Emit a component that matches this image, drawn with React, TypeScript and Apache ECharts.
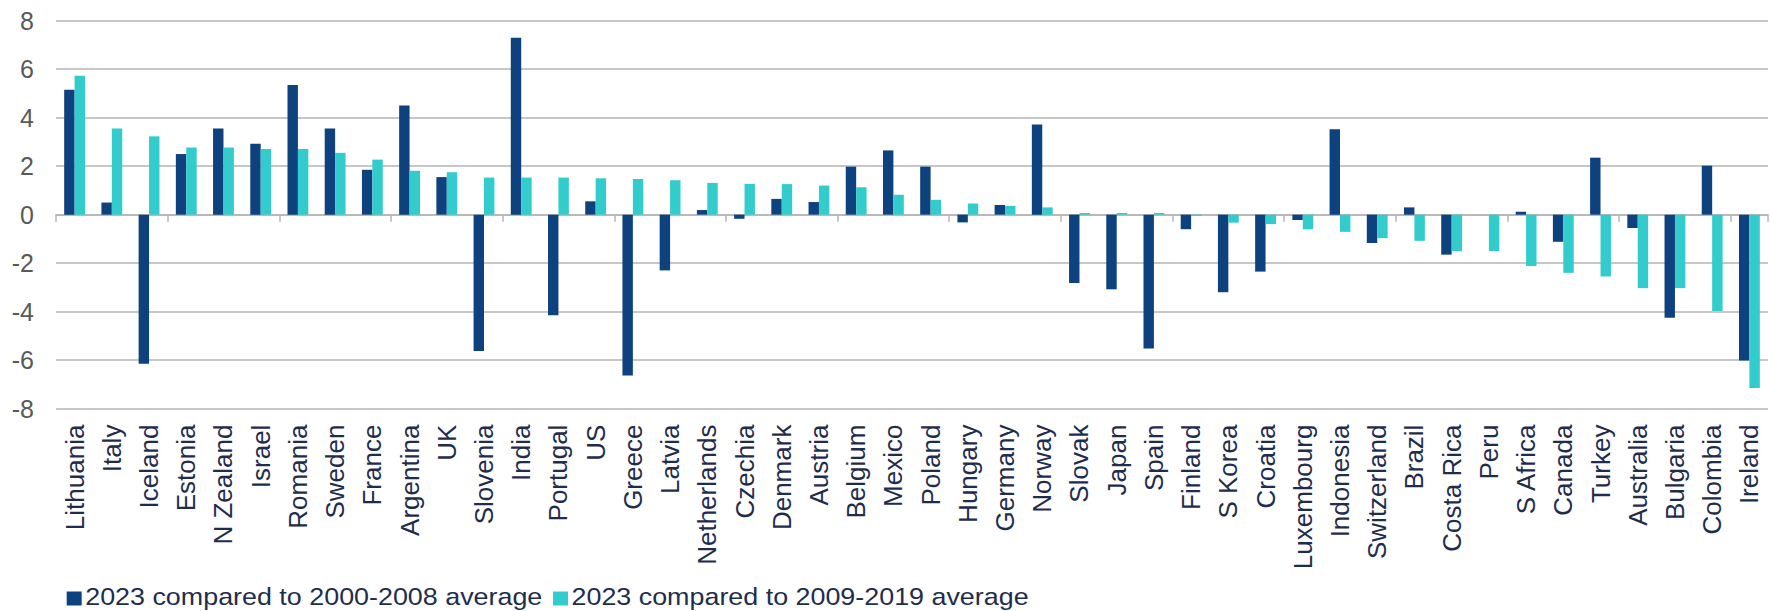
import React, { useEffect, useRef } from "react";
import * as echarts from "echarts";

const categories = [
  "Lithuania", "Italy", "Iceland", "Estonia", "N Zealand", "Israel", "Romania", "Sweden",
  "France", "Argentina", "UK", "Slovenia", "India", "Portugal", "US", "Greece", "Latvia",
  "Netherlands", "Czechia", "Denmark", "Austria", "Belgium", "Mexico", "Poland", "Hungary",
  "Germany", "Norway", "Slovak", "Japan", "Spain", "Finland", "S Korea", "Croatia",
  "Luxembourg", "Indonesia", "Switzerland", "Brazil", "Costa Rica", "Peru", "S Africa",
  "Canada", "Turkey", "Australia", "Bulgaria", "Colombia", "Ireland",
];

const vs2000to2008 = [
  5.15, 0.5, -6.15, 2.5, 3.55, 2.92, 5.35, 3.55,
  1.85, 4.5, 1.55, -5.62, 7.3, -4.15, 0.55, -6.63, -2.3,
  0.19, -0.17, 0.65, 0.52, 1.98, 2.65, 1.98, -0.32,
  0.4, 3.72, -2.82, -3.08, -5.52, -0.6, -3.2, -2.35,
  -0.22, 3.52, -1.17, 0.3, -1.65, 0, 0.12,
  -1.12, 2.35, -0.55, -4.25, 2.02, -6.02,
];

const vs2009to2019 = [
  5.73, 3.55, 3.23, 2.77, 2.77, 2.71, 2.71, 2.55,
  2.27, 1.81, 1.75, 1.53, 1.53, 1.53, 1.5, 1.47, 1.42,
  1.31, 1.27, 1.26, 1.2, 1.13, 0.82, 0.61, 0.46,
  0.36, 0.3, 0.07, 0.07, 0.07, -0.05, -0.33, -0.39,
  -0.6, -0.71, -0.97, -1.08, -1.5, -1.5, -2.12,
  -2.4, -2.55, -3.03, -3.03, -3.97, -7.15,
];

const seriesNames = ["2023 compared to 2000-2008 average", "2023 compared to 2009-2019 average"];
const seriesColors = ["#0D427F", "#33CCCC"];
const yTicks = { min: -8, max: 8, interval: 2 };

const FONT = "'Liberation Sans', Arial, sans-serif";
const GRID = "#B5B5B5";
const TEXT = "#1F2D4D";

export default function App() {
  const ref = useRef<HTMLDivElement>(null);
  useEffect(() => {
    if (!ref.current) return;
    const chart = echarts.init(ref.current, undefined, { renderer: "svg" });

    // legend drawn as graphic items (text is horizontally widened like the reference)
    const legendX = [66.7, 553];
    const legendItems: any[] = [];
    seriesNames.forEach((name, i) => {
      legendItems.push({
        type: "rect",
        shape: { x: legendX[i], y: 591.5, width: 15, height: 14 },
        style: { fill: seriesColors[i] },
        silent: true,
      });
      legendItems.push({
        type: "text",
        x: legendX[i] + 18.5,
        y: 597,
        scaleX: 1.12,
        style: {
          text: name,
          font: "24px 'Liberation Sans', Arial, sans-serif",
          fill: TEXT,
          align: "left",
          verticalAlign: "middle",
        },
        silent: true,
      });
    });

    chart.setOption({
      animation: false,
      textStyle: { fontFamily: FONT },
      grid: { left: 56, right: 2, top: 20.7, bottom: 202.4, containLabel: false },
      legend: { show: false, data: seriesNames },
      graphic: legendItems,
      xAxis: [
        {
          type: "category",
          data: categories,
          position: "bottom",
          axisLine: { show: false, onZero: false },
          axisTick: { show: false },
          axisLabel: {
            rotate: 90,
            interval: 0,
            margin: 16,
            fontSize: 26,
            color: TEXT,
            fontFamily: FONT,
          },
        },
        {
          type: "category",
          data: categories,
          position: "bottom",
          axisLine: { show: true, onZero: true, lineStyle: { color: GRID, width: 1.5 } },
          axisTick: { show: true, length: 7, lineStyle: { color: GRID, width: 1.5 } },
          axisLabel: { show: false },
        },
      ],
      yAxis: {
        type: "value",
        min: yTicks.min,
        max: yTicks.max,
        interval: yTicks.interval,
        axisLine: { show: false },
        axisTick: { show: false },
        axisLabel: { fontSize: 25, color: "#595959", margin: 22, fontFamily: FONT },
        splitLine: { lineStyle: { color: GRID, width: 1.5 } },
      },
      series: [
        {
          name: seriesNames[0],
          type: "bar",
          xAxisIndex: 0,
          data: vs2000to2008,
          itemStyle: { color: seriesColors[0] },
          barGap: "0%",
          barCategoryGap: "44%",
        },
        {
          name: seriesNames[1],
          type: "bar",
          xAxisIndex: 0,
          data: vs2009to2019,
          itemStyle: { color: seriesColors[1] },
          barGap: "0%",
          barCategoryGap: "44%",
        },
      ],
    });
    return () => chart.dispose();
  }, []);
  return (
    <div
      ref={ref}
      style={{ position: "absolute", left: 0, top: 0, width: 1770, height: 611 }}
    />
  );
}
